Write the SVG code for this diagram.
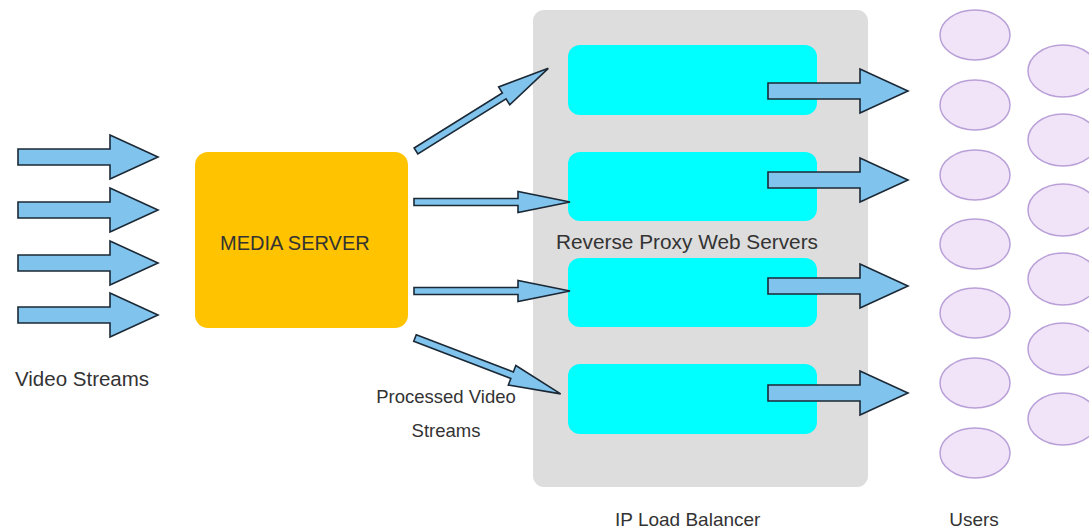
<svg xmlns="http://www.w3.org/2000/svg" width="1089" height="531" viewBox="0 0 1089 531">
<style>
.arrow{fill:#80C4EE;stroke:#1B2835;stroke-width:1.6;stroke-linejoin:miter}
.user{fill:#F1E4F8;stroke:#B9A0D8;stroke-width:1.5}
.lbl{font-family:"Liberation Sans",Arial,sans-serif;fill:#333333}
.cyan{fill:#00FFFF}
</style>
<defs>
<path id="bigArrow" d="M0,-8 H92 V-22 L140,0 L92,22 V8 H0 Z"/>
<path id="thinArrow" d="M0,-3.5 H104 V-10.5 L156,0 L104,10.5 V3.5 H0 Z"/>
</defs>
<rect width="1089" height="531" fill="#FFFFFF"/>
<g id="load-balancer">
<rect x="533" y="10" width="335" height="477" rx="11" fill="#DDDDDD"/>
<text class="lbl" x="615" y="526" font-size="19">IP Load Balancer</text>
</g>
<g id="proxy-servers">
<rect id="proxy1" class="cyan" x="568" y="45" width="249" height="70" rx="12"/>
<rect id="proxy2" class="cyan" x="568" y="152" width="249" height="69" rx="12"/>
<rect id="proxy3" class="cyan" x="568" y="258" width="249" height="69" rx="12"/>
<rect id="proxy4" class="cyan" x="568" y="364" width="249" height="70" rx="12"/>
<text class="lbl" x="556" y="249" font-size="20.8">Reverse Proxy Web Servers</text>
</g>
<g id="media-server">
<rect x="195" y="152" width="213" height="176" rx="13" fill="#FFC300"/>
<text class="lbl" x="220" y="250" font-size="20" fill="#2a2a2a">MEDIA SERVER</text>
</g>
<g id="video-streams-label">
<text class="lbl" x="15" y="386" font-size="20.5">Video Streams</text>
</g>
<g id="processed-label">
<text class="lbl" x="446" y="403" font-size="18.5" text-anchor="middle">Processed Video</text>
<text class="lbl" x="446" y="437" font-size="18.5" text-anchor="middle">Streams</text>
</g>
<g id="users">
<ellipse class="user" cx="975" cy="35" rx="35" ry="25"/>
<ellipse class="user" cx="975" cy="105" rx="35" ry="25"/>
<ellipse class="user" cx="975" cy="175" rx="35" ry="25"/>
<ellipse class="user" cx="975" cy="244" rx="35" ry="25"/>
<ellipse class="user" cx="975" cy="313" rx="35" ry="25"/>
<ellipse class="user" cx="975" cy="383" rx="35" ry="25"/>
<ellipse class="user" cx="975" cy="453" rx="35" ry="25"/>
<ellipse class="user" cx="1063" cy="71" rx="35" ry="26"/>
<ellipse class="user" cx="1063" cy="140" rx="35" ry="26"/>
<ellipse class="user" cx="1063" cy="210" rx="35" ry="26"/>
<ellipse class="user" cx="1063" cy="279" rx="35" ry="26"/>
<ellipse class="user" cx="1063" cy="349" rx="35" ry="26"/>
<ellipse class="user" cx="1063" cy="419" rx="35" ry="26"/>
<text class="lbl" x="974" y="526" font-size="19" text-anchor="middle">Users</text>
</g>
<g id="connectors">
<use href="#bigArrow" class="arrow" transform="translate(18,157)"/>
<use href="#bigArrow" class="arrow" transform="translate(18,210)"/>
<use href="#bigArrow" class="arrow" transform="translate(18,263)"/>
<use href="#bigArrow" class="arrow" transform="translate(18,315)"/>
<use href="#thinArrow" class="arrow" transform="translate(416,151) rotate(-32)"/>
<use href="#thinArrow" class="arrow" transform="translate(414,202)"/>
<use href="#thinArrow" class="arrow" transform="translate(414,291)"/>
<use href="#thinArrow" class="arrow" transform="translate(415,338) rotate(21)"/>
<use href="#bigArrow" class="arrow" transform="translate(768,91)"/>
<use href="#bigArrow" class="arrow" transform="translate(768,180)"/>
<use href="#bigArrow" class="arrow" transform="translate(768,286)"/>
<use href="#bigArrow" class="arrow" transform="translate(768,393)"/>
</g>
</svg>
